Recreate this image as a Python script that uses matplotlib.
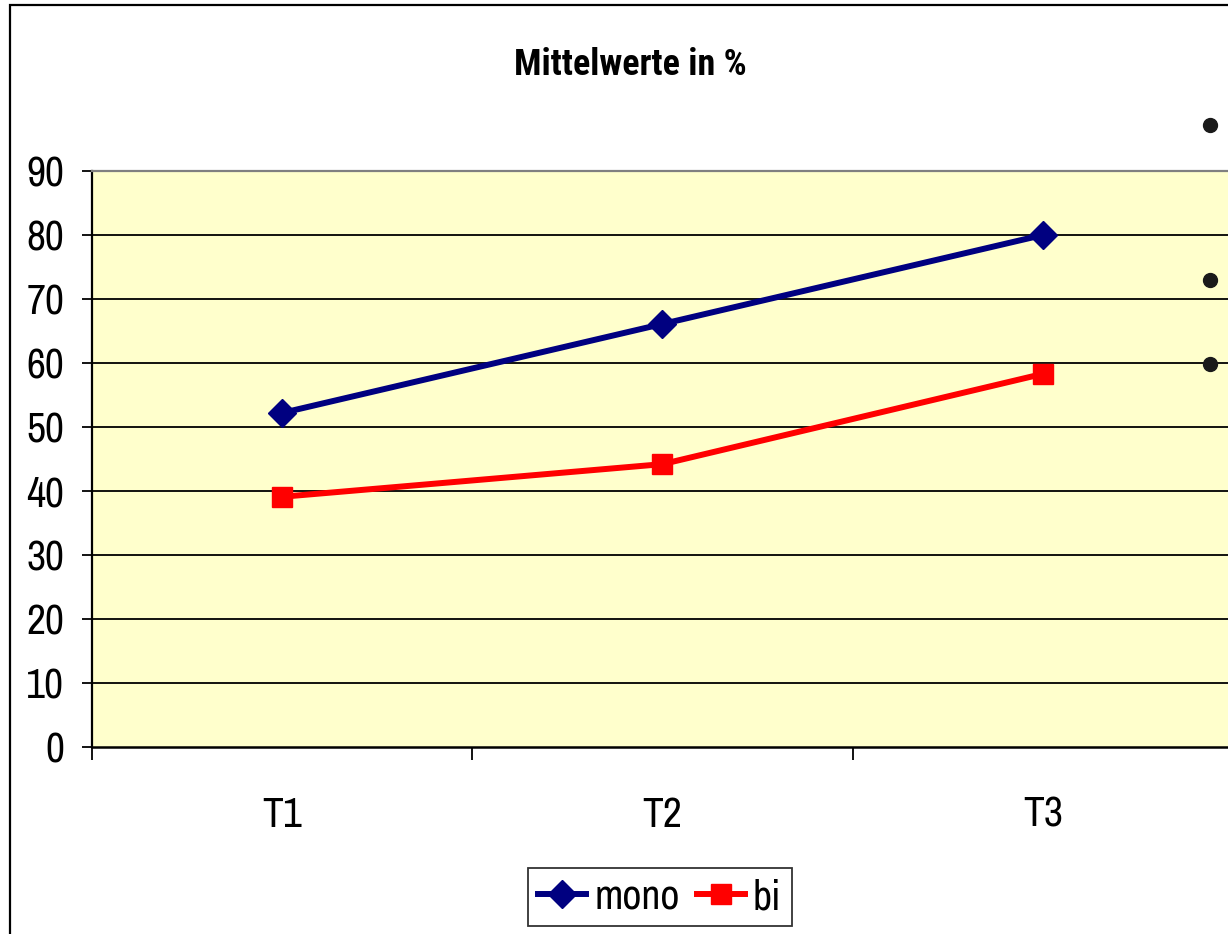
import matplotlib
matplotlib.use("Agg")
import matplotlib.pyplot as plt
from matplotlib.patches import Rectangle
from matplotlib.lines import Line2D

categories = ["T1", "T2", "T3"]
mono = [52.2, 66.1, 80.0]
bi = [39.1, 44.2, 58.3]
y_ticks = [0, 10, 20, 30, 40, 50, 60, 70, 80, 90]
title = "Mittelwerte in %"

W, H = 1228, 934
fig = plt.figure(figsize=(W / 100, H / 100), dpi=100)
FONT = ["Liberation Sans Narrow", "Archivo Narrow", "Roboto Condensed", "DejaVu Sans"]
TITLE_FONT = ["Roboto Condensed", "IBM Plex Sans Condensed", "Fira Sans Condensed", "DejaVu Sans"]
plt.rcParams["font.family"] = FONT

# figure border
fig.add_artist(Rectangle((10 / W, -0.05), 1.2, 1 - 5 / H + 0.05, transform=fig.transFigure,
                         fill=False, edgecolor="black", linewidth=1.6))

left, right, bottom, top = 92, 1233, 747, 171
ax = fig.add_axes([left / W, 1 - bottom / H, (right - left) / W, (bottom - top) / H])
ax.set_facecolor("#FFFFCC")

x = list(range(1, len(categories) + 1))
ax.set_xlim(0.5, len(categories) + 0.5)
ax.set_ylim(y_ticks[0], y_ticks[-1])

for yv in y_ticks[1:-1]:
    ax.axhline(yv, color="black", linewidth=1.3, zorder=1)

ax.plot(x, mono, color="#000080", linewidth=4.3, marker="D", markersize=14,
        label="mono", zorder=3)
ax.plot(x, bi, color="#FF0000", linewidth=4.3, marker="s", markersize=14.5,
        label="bi", zorder=3)

ax.set_yticks(y_ticks)
ax.set_yticklabels([str(v) for v in y_ticks])
ax.tick_params(axis="y", direction="out", length=7, width=1.3, pad=13,
               labelsize=30, colors="black")

ax.set_xticks(x)
ax.set_xticklabels(categories)
ax.tick_params(axis="x", which="major", length=0, pad=35, labelsize=30)
ax.set_xticks([i + 0.5 for i in range(len(categories) + 1)], minor=True)
ax.tick_params(axis="x", which="minor", direction="out", length=9, width=1.3)

ax.spines["left"].set_color("black")
ax.spines["left"].set_linewidth(1.6)
ax.spines["bottom"].set_color("black")
ax.spines["bottom"].set_linewidth(1.8)
ax.spines["top"].set_color("#808080")
ax.spines["top"].set_linewidth(1.6)
ax.spines["right"].set_visible(False)

fig.text(630 / W, 1 - 65 / H, title, ha="center", va="center",
         fontsize=26, fontweight="bold", family=TITLE_FONT)

leg = fig.legend(loc="center", bbox_to_anchor=(660 / W, 1 - 897 / H), ncol=2,
                 fontsize=30, frameon=True, fancybox=False, handlelength=1.15,
                 handletextpad=0.2, columnspacing=0.4, borderpad=0.25,
                 borderaxespad=0)
leg.get_frame().set_edgecolor("black")
leg.get_frame().set_linewidth(1.3)

# decorative bullets at right edge
bullet_x = 1210
bullet_y = [125, 280, 364]
for by in bullet_y:
    fig.add_artist(Line2D([bullet_x / W], [1 - by / H], marker="o", markersize=10,
                          color="#1a1a1a", linestyle="none", transform=fig.transFigure,
                          zorder=5))

fig.savefig("out.png", dpi=100)
